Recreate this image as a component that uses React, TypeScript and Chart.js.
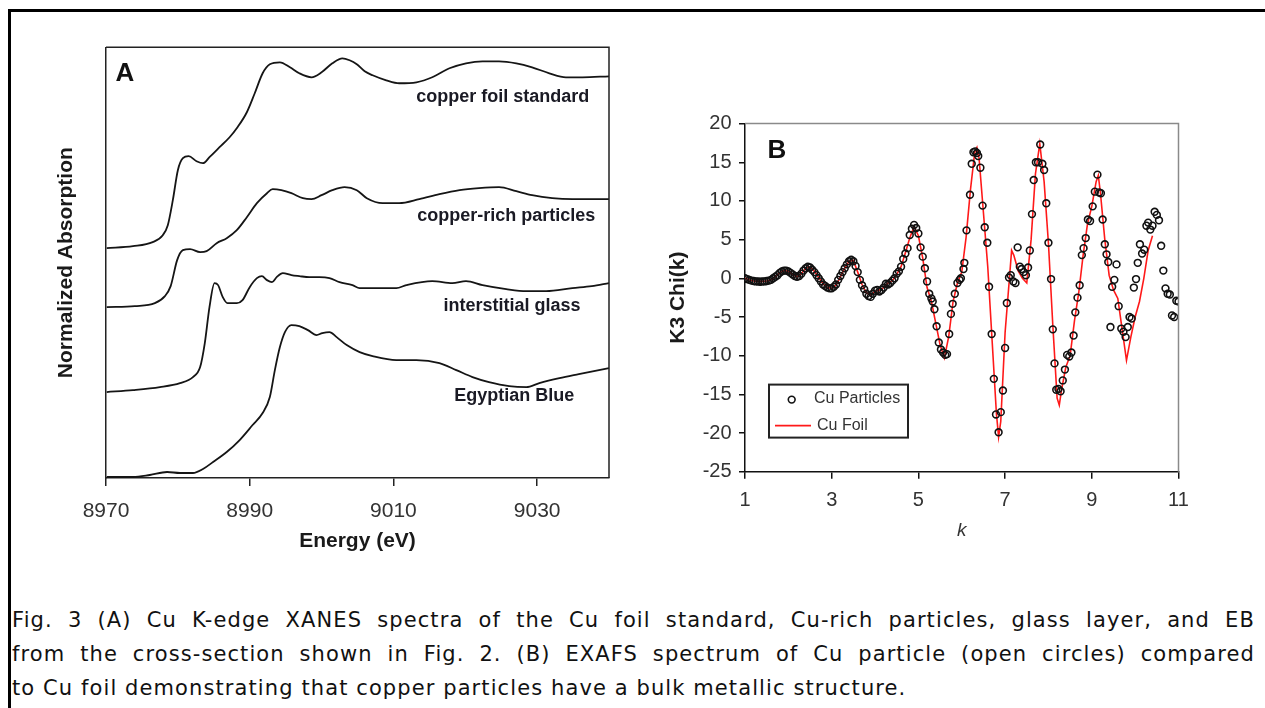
import React, { useEffect, useRef } from "react";
import { Chart, registerables } from "chart.js";
Chart.register(...registerables);

const FONT = "'Liberation Sans', Arial, Helvetica, sans-serif";
Chart.defaults.font.family = FONT;

// ---------------- Panel A : XANES (normalized absorption, stacked) ----------------
const energyTicks = [8970, 8990, 9010, 9030];

const foilStdEnergy = [8970.1, 8973.75, 8976.5, 8977.9, 8978.6, 8979.3, 8980.0, 8980.7, 8981.5, 8982.6, 8983.5, 8984.4, 8985.8, 8987.2, 8988.3, 8989.6, 8990.7, 8991.8, 8992.8, 8994.2, 8995.6, 8996.9, 8998.6, 9000.0, 9001.5, 9002.9, 9003.9, 9004.9, 9006.0, 9007.1, 9009.0, 9010.8, 9013.2, 9015.4, 9017.8, 9020.1, 9022.4, 9024.7, 9027.1, 9029.3, 9031.7, 9034.0, 9036.3, 9040.0];
const foilStdAbs = [2.30, 2.32, 2.36, 2.43, 2.53, 2.78, 3.08, 3.20, 3.22, 3.17, 3.15, 3.21, 3.31, 3.41, 3.51, 3.66, 3.85, 4.05, 4.14, 4.16, 4.11, 4.05, 4.01, 4.06, 4.15, 4.20, 4.18, 4.14, 4.07, 4.03, 3.98, 3.95, 3.96, 4.01, 4.10, 4.15, 4.17, 4.17, 4.15, 4.11, 4.05, 4.01, 4.01, 4.02];

const cuRichEnergy = [8970.1, 8974.0, 8976.8, 8978.2, 8979.0, 8979.9, 8980.7, 8981.7, 8983.1, 8984.0, 8985.4, 8986.8, 8988.2, 8989.6, 8991.0, 8992.4, 8993.2, 8994.4, 8995.8, 8997.4, 8998.6, 9000.0, 9001.5, 9003.2, 9004.9, 9006.3, 9008.5, 9010.8, 9013.6, 9016.4, 9019.2, 9021.9, 9024.7, 9027.1, 9029.3, 9032.1, 9034.9, 9040.0];
const cuRichAbs = [1.71, 1.72, 1.75, 1.82, 1.92, 2.18, 2.28, 2.29, 2.26, 2.27, 2.35, 2.40, 2.48, 2.61, 2.75, 2.85, 2.89, 2.88, 2.85, 2.80, 2.79, 2.83, 2.88, 2.91, 2.88, 2.80, 2.75, 2.75, 2.79, 2.84, 2.88, 2.90, 2.91, 2.87, 2.83, 2.80, 2.79, 2.79];

const glassEnergy = [8970.1, 8973.75, 8977.5, 8980.3, 8982.1, 8983.1, 8983.75, 8984.4, 8985.1, 8985.6, 8986.25, 8986.9, 8988.2, 8989.0, 8990.0, 8991.0, 8991.7, 8992.4, 8993.1, 8993.75, 8994.6, 8995.8, 8996.9, 8998.3, 8999.7, 9001.1, 9002.5, 9004.3, 9005.3, 9008.1, 9010.4, 9011.8, 9015.4, 9018.2, 9020.1, 9022.4, 9025.7, 9028.5, 9031.25, 9034.9, 9037.6, 9040.0];
const glassAbs = [0.86, 0.88, 0.91, 0.95, 1.01, 1.11, 1.35, 1.71, 1.95, 1.93, 1.81, 1.75, 1.75, 1.78, 1.91, 2.00, 2.02, 1.98, 1.96, 2.01, 2.05, 2.03, 2.02, 2.01, 2.01, 2.00, 1.96, 1.93, 1.90, 1.90, 1.90, 1.93, 1.97, 1.95, 1.97, 1.93, 1.89, 1.87, 1.87, 1.90, 1.92, 1.95];

const ebEnergy = [8970.1, 8973.75, 8976.1, 8978.5, 8980.3, 8982.1, 8983.5, 8984.9, 8986.8, 8988.6, 8990.4, 8991.8, 8992.8, 8993.5, 8994.2, 8994.9, 8995.8, 8996.9, 8998.1, 8999.3, 9000.1, 9001.1, 9002.1, 9003.5, 9005.3, 9007.1, 9010.4, 9013.2, 9016.4, 9018.75, 9021.0, 9023.3, 9026.1, 9028.5, 9030.3, 9033.1, 9035.8, 9040.0];
const ebAbs = [0.01, 0.01, 0.03, 0.06, 0.05, 0.05, 0.09, 0.16, 0.26, 0.38, 0.53, 0.65, 0.81, 1.08, 1.31, 1.46, 1.53, 1.52, 1.48, 1.43, 1.45, 1.46, 1.41, 1.33, 1.26, 1.22, 1.18, 1.18, 1.15, 1.08, 1.01, 0.96, 0.92, 0.91, 0.95, 1.00, 1.04, 1.10];

const curveLabels = ["copper foil standard", "copper-rich particles", "interstitial glass", "Egyptian Blue"];
const curveLabelEnergy = [9025.2, 9025.7, 9026.5, 9026.8];
const curveLabelAbs = [3.81, 2.62, 1.72, 0.82];

// ---------------- Panel B : EXAFS k3 chi(k) ----------------
const kTicks = { min: 1, max: 11, step: 2 };
const chiTicks = { min: -25, max: 20, step: 5 };

const particleK = [1.00, 1.05, 1.10, 1.15, 1.20, 1.25, 1.30, 1.35, 1.40, 1.45, 1.50, 1.55, 1.60, 1.65, 1.70, 1.75, 1.80, 1.85, 1.90, 1.95, 2.00, 2.05, 2.10, 2.15, 2.20, 2.25, 2.30, 2.35, 2.40, 2.45, 2.50, 2.55, 2.60, 2.65, 2.70, 2.75, 2.80, 2.85, 2.90, 2.95, 3.00, 3.05, 3.10, 3.15, 3.20, 3.25, 3.30, 3.35, 3.40, 3.45, 3.50, 3.55, 3.60, 3.65, 3.70, 3.75, 3.80, 3.85, 3.90, 3.95, 4.00, 4.05, 4.10, 4.15, 4.20, 4.25, 4.30, 4.35, 4.40, 4.45, 4.50, 4.55, 4.60, 4.65, 4.70, 4.75, 4.80, 4.85, 4.90, 4.95, 5.00, 5.05, 5.10, 5.15, 5.20, 5.25, 5.30, 5.33, 5.37, 5.42, 5.47, 5.52, 5.57, 5.62, 5.66, 5.71, 5.75, 5.79, 5.84, 5.90, 5.95, 5.98, 6.04, 6.06, 6.11, 6.19, 6.23, 6.27, 6.31, 6.35, 6.38, 6.43, 6.48, 6.53, 6.59, 6.63, 6.69, 6.74, 6.79, 6.85, 6.90, 6.95, 7.00, 7.04, 7.09, 7.13, 7.19, 7.24, 7.29, 7.34, 7.38, 7.43, 7.48, 7.53, 7.57, 7.62, 7.66, 7.71, 7.76, 7.81, 7.86, 7.90, 7.95, 8.00, 8.06, 8.10, 8.14, 8.18, 8.23, 8.28, 8.33, 8.38, 8.43, 8.48, 8.53, 8.58, 8.62, 8.67, 8.72, 8.77, 8.81, 8.86, 8.91, 8.96, 9.02, 9.07, 9.13, 9.17, 9.21, 9.25, 9.30, 9.34, 9.38, 9.43, 9.47, 9.52, 9.57, 9.62, 9.68, 9.73, 9.78, 9.83, 9.87, 9.92, 9.97, 10.02, 10.06, 10.11, 10.16, 10.21, 10.26, 10.30, 10.35, 10.40, 10.45, 10.50, 10.55, 10.60, 10.65, 10.70, 10.75, 10.80, 10.85, 10.90, 10.95, 11.00];
const particleChi = [0.0, -0.1, -0.2, -0.3, -0.35, -0.4, -0.4, -0.45, -0.4, -0.4, -0.35, -0.3, -0.2, 0.0, 0.2, 0.4, 0.7, 0.9, 1.0, 1.0, 0.9, 0.7, 0.5, 0.3, 0.2, 0.3, 0.6, 1.0, 1.3, 1.5, 1.4, 1.1, 0.8, 0.4, 0.0, -0.4, -0.8, -1.0, -1.2, -1.3, -1.3, -1.1, -0.8, -0.2, 0.3, 0.8, 1.3, 1.8, 2.2, 2.4, 2.2, 1.6, 0.8, -0.2, -0.9, -1.4, -2.0, -2.3, -2.4, -2.0, -1.6, -1.5, -1.7, -1.5, -1.2, -0.7, -0.8, -0.6, -0.3, 0.0, 0.6, 0.9, 1.5, 2.5, 3.2, 3.9, 5.6, 6.4, 6.9, 6.5, 5.8, 4.0, 2.8, 1.3, -0.4, -2.0, -2.6, -3.0, -4.0, -6.2, -8.3, -9.2, -9.6, -9.9, -9.8, -7.2, -4.6, -3.3, -2.0, -0.6, -0.2, 0.0, 1.2, 2.0, 6.2, 10.8, 14.8, 16.3, 16.4, 16.2, 15.8, 14.3, 9.4, 6.6, 4.6, -1.1, -7.2, -13.0, -17.6, -19.9, -17.3, -14.5, -9.0, -3.2, 0.1, 0.4, -0.4, -0.6, 4.0, 1.5, 1.2, 0.8, 0.4, 1.4, 3.6, 8.3, 12.7, 15.0, 15.0, 17.3, 14.8, 14.0, 9.7, 4.6, -0.1, -6.6, -11.0, -14.4, -14.3, -14.6, -13.2, -11.8, -9.9, -10.1, -9.6, -7.4, -4.4, -2.5, -0.9, 3.0, 3.9, 5.2, 7.6, 7.4, 9.3, 11.2, 13.4, 11.1, 11.0, 7.6, 4.4, 3.1, 2.1, -6.3, -1.1, -0.2, 1.8, -3.6, -6.5, -6.9, -7.6, -6.3, -5.0, -5.2, -1.2, -0.1, 2.0, 4.4, 3.2, 3.7, 6.8, 7.2, 6.3, 6.8, 8.6, 8.2, 7.5, 4.2, 1.0, -1.3, -2.0, -2.1, -4.8, -5.0, -2.9, -3.0];

const foilK = [1.0, 1.1, 1.2, 1.3, 1.4, 1.5, 1.6, 1.7, 1.8, 1.9, 2.0, 2.1, 2.2, 2.3, 2.4, 2.5, 2.6, 2.7, 2.8, 2.9, 3.0, 3.1, 3.2, 3.3, 3.4, 3.5, 3.6, 3.7, 3.8, 3.9, 4.0, 4.1, 4.2, 4.3, 4.4, 4.5, 4.6, 4.7, 4.8, 4.9, 5.0, 5.1, 5.2, 5.3, 5.4, 5.5, 5.6, 5.7, 5.8, 5.9, 6.0, 6.1, 6.2, 6.3, 6.35, 6.4, 6.5, 6.6, 6.7, 6.8, 6.85, 6.9, 7.0, 7.1, 7.15, 7.2, 7.3, 7.4, 7.5, 7.6, 7.7, 7.8, 7.9, 8.0, 8.1, 8.2, 8.25, 8.3, 8.4, 8.5, 8.6, 8.7, 8.8, 8.9, 9.0, 9.1, 9.15, 9.2, 9.3, 9.4, 9.5, 9.6, 9.7, 9.8, 9.9, 10.0, 10.1, 10.2, 10.3, 10.4];
const foilChi = [0.0, -0.2, -0.35, -0.4, -0.4, -0.35, -0.2, 0.2, 0.7, 1.0, 0.9, 0.5, 0.2, 0.6, 1.3, 1.5, 0.9, 0.1, -0.7, -1.2, -1.3, -0.9, 0.2, 1.3, 2.2, 2.3, 0.8, -0.8, -1.9, -2.2, -1.7, -1.5, -1.2, -0.6, -0.3, 0.5, 1.5, 3.3, 5.2, 6.7, 5.5, 2.6, -1.2, -3.0, -5.8, -8.6, -10.3, -7.5, -3.0, -0.6, 0.8, 5.3, 11.4, 16.3, 16.9, 15.5, 8.5, 1.5, -8.0, -17.5, -20.5, -18.5, -7.0, 0.0, 3.6, 3.0, 1.0, 0.0, -0.6, 5.0, 13.5, 17.4, 12.5, 4.5, -6.0, -15.5, -16.4, -14.5, -11.5, -10.0, -5.5, -1.8, 3.0, 7.0, 9.3, 12.5, 13.3, 11.0, 5.0, 0.4, -1.5, -2.6, -6.6, -10.6, -7.6, -5.0, -3.0, 0.0, 3.6, 5.5];

const legendLabels = ["Cu Particles", "Cu Foil"];

const captionLines = [
  "Fig. 3 (A) Cu K-edge XANES spectra of the Cu foil standard, Cu-rich particles, glass layer, and EB",
  "from the cross-section shown in Fig. 2. (B) EXAFS spectrum of Cu particle (open circles) compared",
  "to Cu foil demonstrating that copper particles have a bulk metallic structure.",
];

const toXY = (xs: number[], ys: number[]) => xs.map((x, i) => ({ x, y: ys[i] }));

const panelAPlugin = {
  id: "panelADecor",
  afterDraw(chart: any) {
    const { ctx, chartArea: ca, scales } = chart;
    const sx = scales.x, sy = scales.y;
    ctx.save();
    ctx.strokeStyle = "#222";
    ctx.lineWidth = 1.5;
    ctx.beginPath();
    ctx.moveTo(ca.left, ca.top);
    ctx.lineTo(ca.right, ca.top);
    ctx.lineTo(ca.right, ca.bottom);
    ctx.stroke();
    ctx.fillStyle = "#111";
    ctx.textAlign = "center";
    ctx.textBaseline = "middle";
    ctx.font = `bold 26px ${FONT}`;
    ctx.fillText("A", ca.left + 19, ca.top + 27);
    ctx.font = `bold 18px ${FONT}`;
    ctx.fillStyle = "#1a1a24";
    curveLabels.forEach((t, i) => {
      ctx.fillText(t, sx.getPixelForValue(curveLabelEnergy[i]), sy.getPixelForValue(curveLabelAbs[i]));
    });
    ctx.restore();
  },
};

const panelBPlugin = {
  id: "panelBDecor",
  afterDraw(chart: any) {
    const { ctx, chartArea: ca } = chart;
    const ds0 = chart.data.datasets[0];
    const ds1 = chart.data.datasets[1];
    ctx.save();
    ctx.strokeStyle = "#8a8a8a";
    ctx.lineWidth = 1.5;
    ctx.beginPath();
    ctx.moveTo(ca.left, ca.top);
    ctx.lineTo(ca.right, ca.top);
    ctx.lineTo(ca.right, ca.bottom);
    ctx.stroke();
    // panel letter
    ctx.fillStyle = "#111";
    ctx.textAlign = "center";
    ctx.textBaseline = "middle";
    ctx.font = `bold 26px ${FONT}`;
    ctx.fillText("B", ca.left + 32, ca.top + 27);
    // legend box
    const bx = ca.left + 24, by = ca.top + 261, bw = 139, bh = 53;
    ctx.fillStyle = "#fff";
    ctx.fillRect(bx, by, bw, bh);
    ctx.strokeStyle = "#222";
    ctx.lineWidth = 2;
    ctx.strokeRect(bx, by, bw, bh);
    ctx.beginPath();
    ctx.arc(bx + 22.7, by + 15, ds0.pointRadius, 0, Math.PI * 2);
    ctx.lineWidth = ds0.borderWidth;
    ctx.strokeStyle = ds0.borderColor;
    ctx.stroke();
    ctx.beginPath();
    ctx.moveTo(bx + 6, by + 41);
    ctx.lineTo(bx + 42, by + 41);
    ctx.lineWidth = ds1.borderWidth;
    ctx.strokeStyle = ds1.borderColor;
    ctx.stroke();
    ctx.font = `16px ${FONT}`;
    ctx.fillStyle = "#333";
    ctx.textAlign = "left";
    ctx.fillText(legendLabels[0], bx + 45, by + 14);
    ctx.fillText(legendLabels[1], bx + 48, by + 41);
    ctx.restore();
  },
};

function PanelA() {
  const ref = useRef<HTMLCanvasElement | null>(null);
  useEffect(() => {
    if (!ref.current) return;
    const line = (xs: number[], ys: number[]) => ({
      data: toXY(xs, ys),
      borderColor: "#151515",
      borderWidth: 1.8,
      pointRadius: 0,
      cubicInterpolationMode: "monotone" as const,
      clip: false as any,
    });
    const chart = new Chart(ref.current, {
      type: "line",
      data: {
        datasets: [
          { label: curveLabels[0], ...line(foilStdEnergy, foilStdAbs) },
          { label: curveLabels[1], ...line(cuRichEnergy, cuRichAbs) },
          { label: curveLabels[2], ...line(glassEnergy, glassAbs) },
          { label: curveLabels[3], ...line(ebEnergy, ebAbs) },
        ],
      },
      options: {
        animation: false,
        responsive: false,
        events: [],
        layout: { padding: { top: 47.3, right: 31, left: 0, bottom: 0 } },
        plugins: { legend: { display: false }, tooltip: { enabled: false } },
        scales: {
          x: {
            type: "linear",
            min: 8970,
            max: 9040,
            afterBuildTicks: (s: any) => {
              s.ticks = energyTicks.map((v) => ({ value: v }));
            },
            afterFit: (s: any) => {
              s.height = 82;
            },
            ticks: {
              autoSkip: false,
              maxRotation: 0,
              padding: 13,
              color: "#333",
              font: { size: 21, family: FONT },
              callback: (v: any) => String(v),
            },
            grid: { display: true, drawOnChartArea: false, drawTicks: true, tickLength: 8, color: "#222", lineWidth: 1.5 },
            border: { display: true, color: "#222", width: 1.5 },
            title: {
              display: true,
              text: "Energy (eV)",
              color: "#1a1a1a",
              font: { size: 21, weight: "bold", family: FONT },
              padding: { top: 0, bottom: 6.4 },
            },
          },
          y: {
            type: "linear",
            min: 0,
            max: 4.31,
            afterFit: (s: any) => {
              s.width = 106;
            },
            ticks: { display: false },
            grid: { display: false },
            border: { display: true, color: "#222", width: 1.5 },
            title: {
              display: true,
              text: "Normalized Absorption",
              color: "#1a1a1a",
              font: { size: 21, weight: "bold", family: FONT },
              padding: { top: 53.4, bottom: 0 },
            },
          },
        },
      },
      plugins: [panelAPlugin],
    } as any);
    return () => chart.destroy();
  }, []);
  return (
    <canvas
      ref={ref}
      width={640}
      height={560}
      style={{ position: "absolute", left: 0, top: 0, width: 640, height: 560 }}
    />
  );
}

function PanelB() {
  const ref = useRef<HTMLCanvasElement | null>(null);
  useEffect(() => {
    if (!ref.current) return;
    const chart = new Chart(ref.current, {
      type: "scatter",
      data: {
        datasets: [
          {
            label: legendLabels[0],
            data: toXY(particleK, particleChi),
            pointStyle: "circle",
            pointRadius: 3.4,
            borderWidth: 1.6,
            borderColor: "#111",
            backgroundColor: "rgba(0,0,0,0)",
            order: 0,
          },
          {
            type: "line",
            label: legendLabels[1],
            data: toXY(foilK, foilChi),
            showLine: true,
            pointRadius: 0,
            borderColor: "rgba(255,0,0,0.9)",
            borderWidth: 1.6,
            tension: 0,
            order: 1,
          },
        ],
      },
      options: {
        animation: false,
        responsive: false,
        events: [],
        layout: { padding: { top: 23.6, right: 61.5, left: 0, bottom: 0 } },
        plugins: { legend: { display: false }, tooltip: { enabled: false } },
        scales: {
          x: {
            type: "linear",
            min: kTicks.min,
            max: kTicks.max,
            afterFit: (s: any) => {
              s.height = 88.3;
            },
            ticks: {
              stepSize: kTicks.step,
              autoSkip: false,
              maxRotation: 0,
              padding: 9.3,
              color: "#333",
              font: { size: 20, family: FONT },
              callback: (v: any) => String(v),
            },
            grid: { display: true, drawOnChartArea: false, drawTicks: true, tickLength: 7, color: "#111", lineWidth: 1.5 },
            border: { display: true, color: "#111", width: 1.5 },
            title: {
              display: true,
              text: "k",
              color: "#333",
              font: { size: 19, style: "italic", family: FONT },
              padding: { top: 0, bottom: 17.6 },
            },
          },
          y: {
            type: "linear",
            min: chiTicks.min,
            max: chiTicks.max,
            afterFit: (s: any) => {
              s.width = 105;
            },
            ticks: {
              stepSize: chiTicks.step,
              padding: 7.4,
              color: "#333",
              font: { size: 20, family: FONT },
              callback: (v: any) => String(v),
            },
            grid: { display: true, drawOnChartArea: false, drawTicks: true, tickLength: 6, color: "#111", lineWidth: 1.5 },
            border: { display: true, color: "#111", width: 1.5 },
            title: {
              display: true,
              text: "K3 Chi(k)",
              color: "#1a1a1a",
              font: { size: 21, weight: "bold", family: FONT },
              padding: { top: 25.4, bottom: 0 },
            },
          },
        },
      },
      plugins: [panelBPlugin],
    } as any);
    return () => chart.destroy();
  }, []);
  return (
    <canvas
      ref={ref}
      width={600}
      height={460}
      style={{ position: "absolute", left: 640, top: 100, width: 600, height: 460 }}
    />
  );
}

export default function App() {
  return (
    <div
      style={{
        position: "fixed",
        left: 0,
        top: 0,
        width: 1265,
        height: 708,
        background: "#fff",
        overflow: "hidden",
      }}
    >
      <div
        style={{
          position: "absolute",
          left: 8,
          top: 9,
          width: 1300,
          height: 800,
          borderTop: "3px solid #000",
          borderLeft: "3px solid #000",
          boxSizing: "border-box",
        }}
      />
      <PanelA />
      <PanelB />
      <div
        style={{
          position: "absolute",
          left: 12,
          top: 602.5,
          width: 1243,
          fontFamily: "'DejaVu Sans', Verdana, sans-serif",
          fontSize: 21,
          letterSpacing: "1.1px",
          lineHeight: "34px",
          color: "#111",
        }}
      >
        {captionLines.map((l, i) => (
          <div
            key={i}
            style={{
              textAlign: i < captionLines.length - 1 ? "justify" : "left",
              textAlignLast: i < captionLines.length - 1 ? "justify" : "left",
              whiteSpace: "nowrap",
            }}
          >
            {l}
          </div>
        ))}
      </div>
    </div>
  );
}
